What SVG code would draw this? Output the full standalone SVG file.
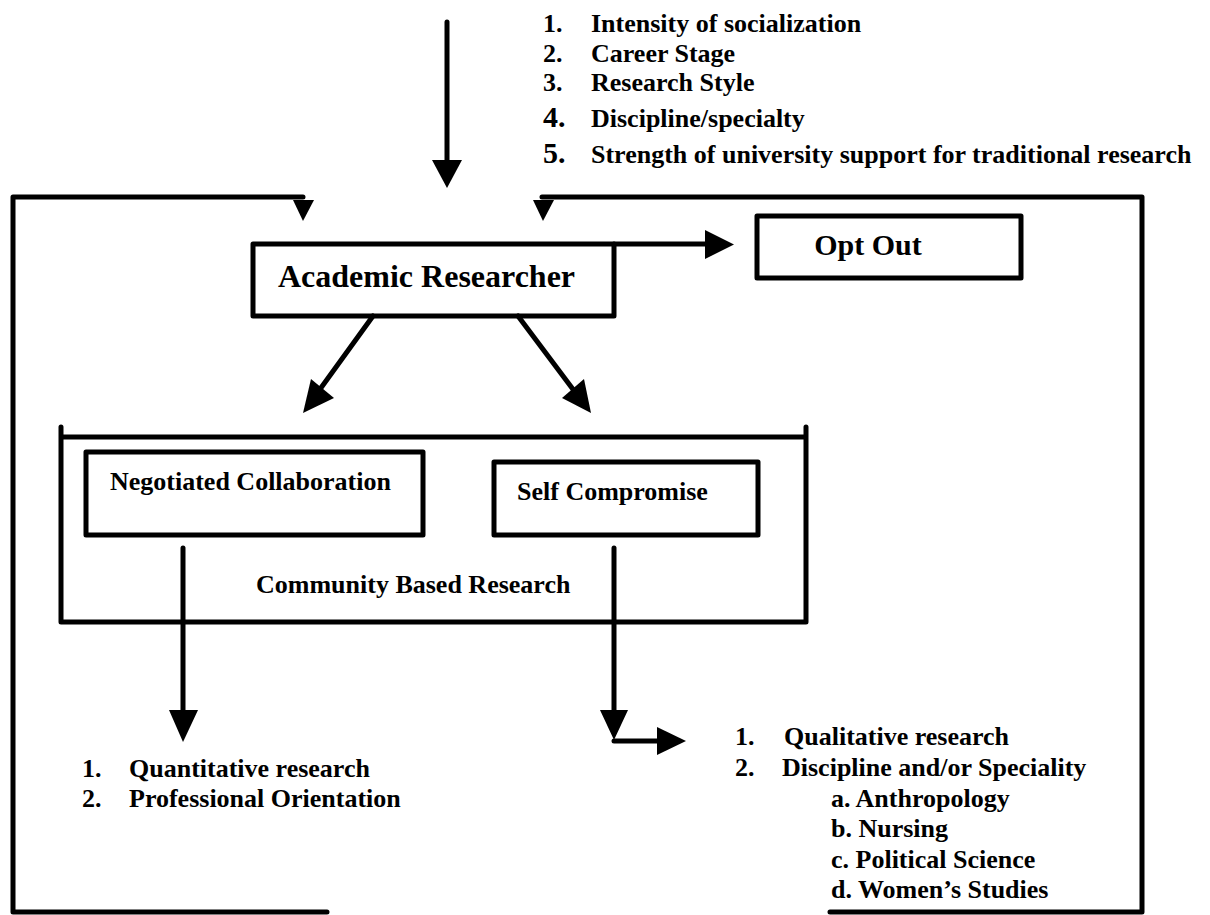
<svg xmlns="http://www.w3.org/2000/svg" width="1210" height="915" viewBox="0 0 1210 915">
<style>
text{font-family:"Liberation Serif","Times New Roman",serif;font-weight:bold;fill:#000;font-size:26px}
.box{fill:none;stroke:#000;stroke-width:5;stroke-linejoin:round}
.ln{fill:none;stroke:#000;stroke-width:5;stroke-linecap:round;stroke-linejoin:round}
.hd{fill:#000;stroke:none}
.big{font-size:30px}
</style>
<rect width="1210" height="915" fill="#fff"/>
<g id="factors">
<text x="543" y="32">1.</text><text x="591" y="32">Intensity of socialization</text>
<text x="543" y="62">2.</text><text x="591" y="62">Career Stage</text>
<text x="543" y="91">3.</text><text x="591" y="91">Research Style</text>
<text x="543" y="127" class="big">4.</text><text x="591" y="127">Discipline/specialty</text>
<text x="543" y="163" class="big">5.</text><text x="591" y="163">Strength of university support for traditional research</text>
</g>
<g id="academic-researcher">
<rect class="box" x="253" y="244" width="361" height="72"/>
<text x="278" y="287" style="font-size:32px">Academic Researcher</text>
</g>
<g id="opt-out">
<rect class="box" x="757" y="216" width="264" height="62"/>
<text x="868" y="255" class="big" text-anchor="middle">Opt Out</text>
</g>
<g id="community-based-research">
<path class="ln" d="M61 427 V622 H806 V427 M61 437 H806"/>
<text x="256" y="593">Community Based Research</text>
</g>
<g id="negotiated-collaboration">
<rect class="box" x="86" y="452" width="337" height="83"/>
<text x="110" y="490">Negotiated Collaboration</text>
</g>
<g id="self-compromise">
<rect class="box" x="494" y="462" width="264" height="73"/>
<text x="517" y="500">Self Compromise</text>
</g>
<g id="left-outcomes">
<text x="82" y="777">1.</text><text x="129" y="777">Quantitative research</text>
<text x="82" y="807">2.</text><text x="129" y="807">Professional Orientation</text>
</g>
<g id="right-outcomes">
<text x="735" y="745">1.</text><text x="784" y="745">Qualitative research</text>
<text x="735" y="776">2.</text><text x="782" y="776">Discipline and/or Speciality</text>
<text x="831" y="807">a. Anthropology</text>
<text x="831" y="837">b. Nursing</text>
<text x="831" y="868">c. Political Science</text>
<text x="831" y="898">d. Women’s Studies</text>
</g>
<g id="connectors">
<path class="ln" d="M447 22 V165"/>
<polygon class="hd" points="432,160 462,160 447,188"/>
<path class="ln" d="M327 912 H13 V197 H303"/>
<polygon class="hd" points="293,200 314,200 303,221"/>
<path class="ln" d="M830 912 H1142 V197 H542"/>
<polygon class="hd" points="533,200 554,200 543,221"/>
<path class="ln" d="M614 244 H710"/>
<polygon class="hd" points="705,230 705,259 734,244.5"/>
<path class="ln" d="M373 316 L318 392"/>
<polygon class="hd" points="311,379 334,398 303,413"/>
<path class="ln" d="M518 316 L575 392"/>
<polygon class="hd" points="584,379 562,398 591,413"/>
<path class="ln" d="M183 548 V715"/>
<polygon class="hd" points="169,710 198,710 183,742"/>
<path class="ln" d="M614 548 V715"/>
<polygon class="hd" points="600,710 628,710 614,740"/>
<path class="ln" d="M614 741 H662"/>
<polygon class="hd" points="657,727 657,755 686,741"/>
</g>
</svg>
